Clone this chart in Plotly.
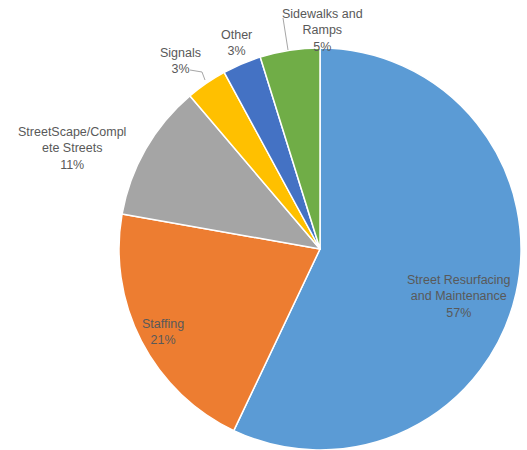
import plotly.graph_objects as go

categories = ["Street Resurfacing and Maintenance", "Staffing", "StreetScape/Complete Streets",
              "Signals", "Other", "Sidewalks and Ramps"]
values = [57.0, 20.7, 11.0, 3.3, 3.1, 4.8]
label_text = ["Street Resurfacing<br>and Maintenance", "Staffing", "StreetScape/Compl<br>ete Streets",
              "Signals", "Other", "Sidewalks and<br>Ramps"]
colors = ["#5B9BD5", "#ED7D31", "#A5A5A5", "#FFC000", "#4472C4", "#70AD47"]

# label anchor positions in pixels (x, y from top)
label_pos = [(459, 296), (163, 332), (72, 148), (180, 61), (236, 43), (322, 31)]

W, H = 527, 450
T, B = 48, 0
PH = H - T - B
cx, r = 320, 201


def py2paper(py):
    return 1 - (py - T) / PH


fig = go.Figure(go.Pie(
    labels=categories, values=values, sort=False, direction="clockwise", rotation=0,
    marker=dict(colors=colors, line=dict(color="white", width=1.5)),
    textinfo="none", hoverinfo="label+percent", showlegend=False,
    domain=dict(x=[(cx - r) / W, (cx + r) / W], y=[0, 1]),
))

total = sum(values)
for txt, v, (px, py) in zip(label_text, values, label_pos):
    pct = round(v / total * 100)
    fig.add_annotation(x=px / W, y=py2paper(py), xref="paper", yref="paper",
                       text=f"{txt}<br>{pct}%", showarrow=False,
                       font=dict(family="Liberation Sans, Arial", size=12.5, color="#595959"),
                       align="center", xanchor="center", yanchor="middle")

# leader lines
for (x0, y0, x1, y1) in [(190, 70, 202, 72), (202, 72, 205, 80), (283, 18, 288, 50)]:
    fig.add_shape(type="line", xref="paper", yref="paper",
                  x0=x0 / W, y0=py2paper(y0), x1=x1 / W, y1=py2paper(y1),
                  line=dict(color="#A6A6A6", width=1))

fig.update_layout(width=W, height=H, margin=dict(l=0, r=0, t=T, b=B),
                  paper_bgcolor="white", plot_bgcolor="white")
fig.write_html("out.html")
